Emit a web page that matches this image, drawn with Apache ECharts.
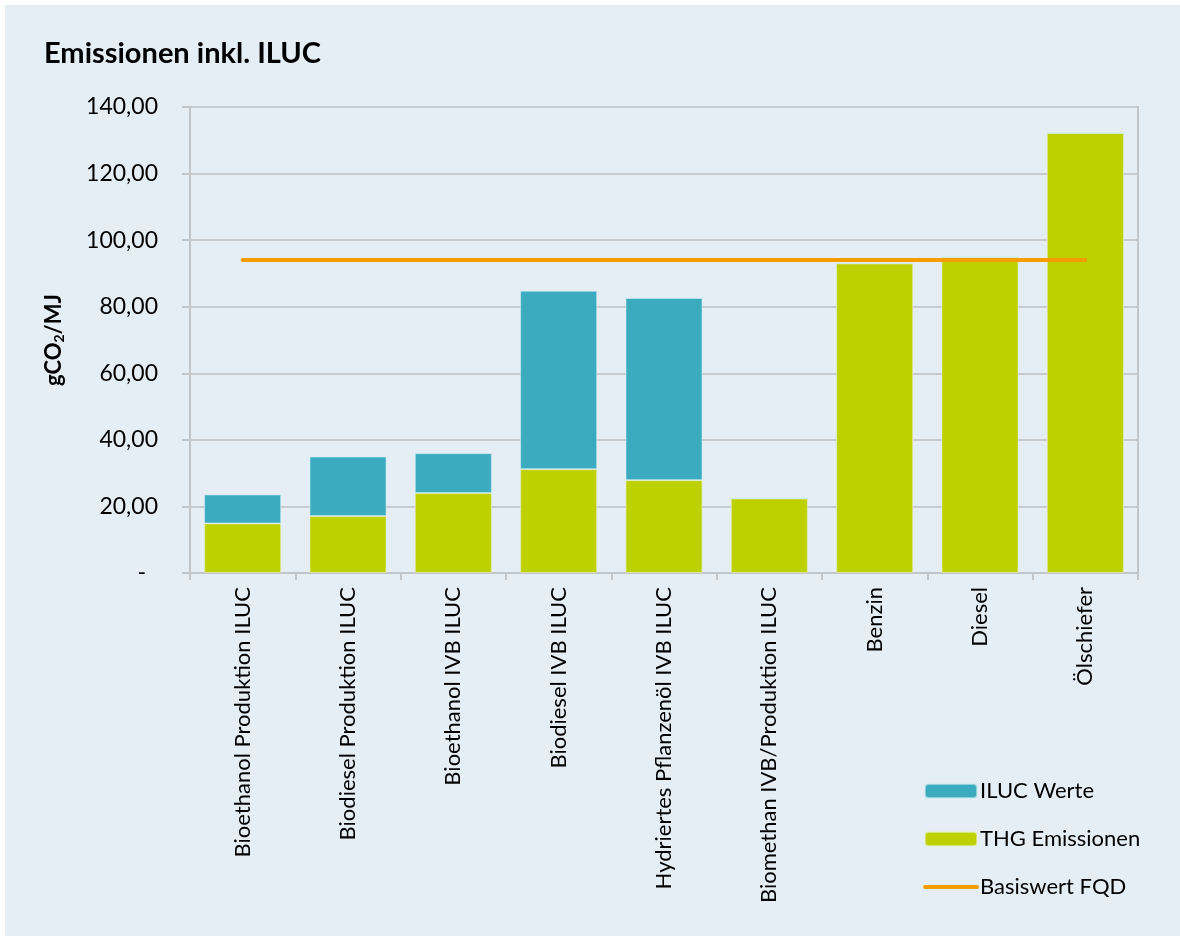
<!DOCTYPE html>
<html>
<head>
<meta charset="utf-8">
<style>
    html, body { margin: 0; padding: 0; background: #ffffff; }
    #chart {
        position: absolute;
        left: 5px;
        top: 5px;
        width: 1175px;
        height: 931px;
        background: #e5eef4;
    }
</style>
</head>
<body>
<div id="chart"></div>
<script src="https://cdn.jsdelivr.net/npm/echarts@6/dist/echarts.min.js"></script>
<script>
    var categories = [
        'Bioethanol Produktion ILUC',
        'Biodiesel Produktion ILUC',
        'Bioethanol IVB ILUC',
        'Biodiesel IVB ILUC',
        'Hydriertes Pflanzenöl IVB ILUC',
        'Biomethan IVB/Produktion ILUC',
        'Benzin',
        'Diesel',
        'Ölschiefer'
    ];
    // THG Emissionen (untere Säule)
    var thgValues = [14.9, 17.1, 24.0, 31.2, 27.9, 22.4, 93.0, 94.9, 132.2];
    // ILUC Werte (oben drauf gestapelt)
    var ilucValues = [8.7, 17.9, 12.0, 53.6, 54.7, 0, 0, 0, 0];
    // Basiswert FQD
    var basisValues = [94.0, 94.0, 94.0, 94.0, 94.0, 94.0, 94.0, 94.0, 94.0];
    var yTicks = [0, 20, 40, 60, 80, 100, 120, 140];

    var fontName = 'Lato';
    var myChart = echarts.init(document.getElementById('chart'));
    var option = {
        animation: false,
        textStyle: { fontFamily: fontName, color: '#000' },
        title: {
            text: 'Emissionen inkl. ILUC',
            left: 34,
            top: 29,
            textStyle: { fontFamily: fontName, fontSize: 29, fontWeight: 'bold', color: '#000' }
        },
        grid: {
            left: 185,
            top: 102,
            width: 948,
            height: 466,
            show: true,
            borderColor: '#c3c6c8',
            borderWidth: 2,
            backgroundColor: 'transparent'
        },
        legend: {
            orient: 'vertical',
            left: 918,
            top: 775,
            padding: 0,
            itemWidth: 52,
            itemHeight: 14,
            itemGap: 26,
            data: [
                { name: 'ILUC Werte' },
                { name: 'THG Emissionen' },
                { name: 'Basiswert FQD', itemStyle: { opacity: 0 }, lineStyle: { width: 4, color: '#f59c00', cap: 'round' } }
            ],
            textStyle: { fontFamily: fontName, fontSize: 22, color: '#000', lineHeight: 22, padding: [0, 0, 0, -2] }
        },
        xAxis: {
            type: 'category',
            data: categories,
            axisLine: { lineStyle: { color: '#c3c6c8', width: 2 } },
            axisTick: { show: true, length: 7, lineStyle: { color: '#c3c6c8', width: 2 } },
            axisLabel: {
                rotate: 90,
                interval: 0,
                margin: 14,
                fontFamily: fontName,
                fontSize: 22,
                color: '#000'
            }
        },
        yAxis: {
            type: 'value',
            min: yTicks[0],
            max: yTicks[yTicks.length - 1],
            interval: 20,
            name: '{a|gCO}{b|2}{a|/MJ}',
            nameLocation: 'middle',
            nameRotate: 90,
            nameGap: 124,
            nameTextStyle: {
                rich: {
                    a: { fontFamily: fontName, fontSize: 22, fontWeight: 'bold', color: '#000' },
                    b: { fontFamily: fontName, fontSize: 14, fontWeight: 'bold', color: '#000', padding: [10, 0, 0, 0] }
                }
            },
            axisLine: { show: true, lineStyle: { color: '#c3c6c8', width: 2 } },
            axisTick: { show: true, length: 8, lineStyle: { color: '#c3c6c8', width: 2 } },
            splitLine: { lineStyle: { color: '#c8cbcd', width: 2 } },
            axisLabel: {
                margin: 32,
                fontFamily: fontName,
                fontSize: 23,
                color: '#000',
                formatter: function (v) {
                    if (v === 0) {
                        return '{z|-}';
                    }
                    return v.toFixed(2).replace('.', ',');
                },
                rich: {
                    z: { fontFamily: fontName, fontSize: 23, color: '#000', padding: [0, 12, 0, 0] }
                }
            }
        },
        series: [
            {
                name: 'THG Emissionen',
                type: 'bar',
                stack: 'total',
                barWidth: 77,
                data: thgValues,
                itemStyle: { color: '#bdd000', borderColor: 'rgba(230,240,200,0.6)', borderWidth: 1 }
            },
            {
                name: 'ILUC Werte',
                type: 'bar',
                stack: 'total',
                barWidth: 77,
                data: ilucValues,
                itemStyle: { color: '#3babbf', borderColor: 'rgba(200,235,240,0.6)', borderWidth: 1 }
            },
            {
                name: 'Basiswert FQD',
                type: 'line',
                data: basisValues,
                symbol: 'none',
                z: 5,
                lineStyle: { color: '#f59c00', width: 4, cap: 'round' },
                itemStyle: { color: '#f59c00' }
            }
        ]
    };
    myChart.setOption(option);
</script>
</body>
</html>
